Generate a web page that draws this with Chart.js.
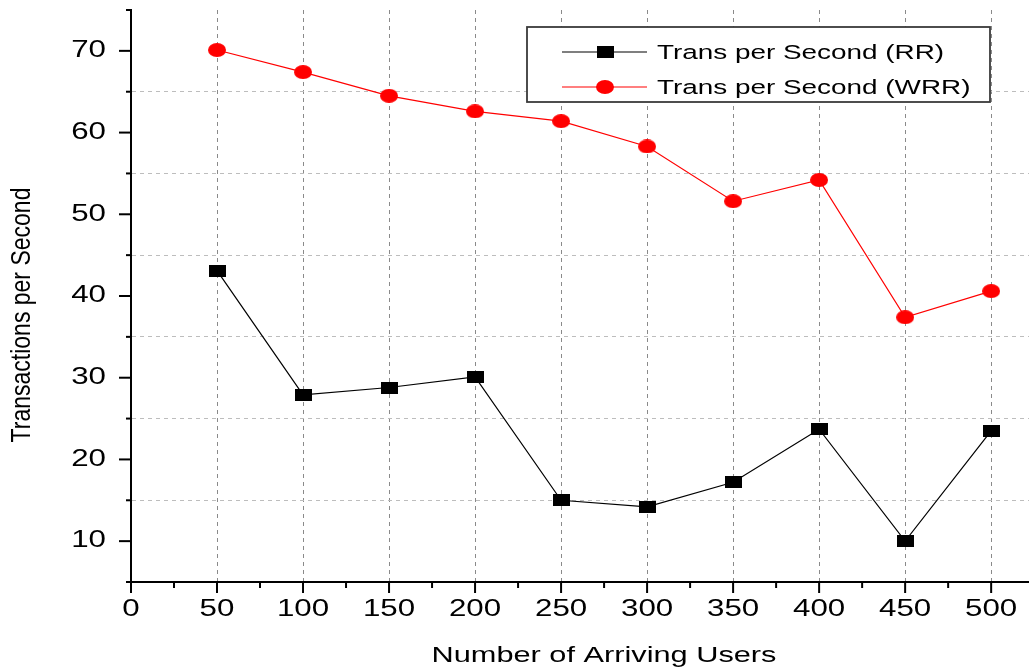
<!DOCTYPE html>
<html>
<head>
<meta charset="utf-8">
<script src="https://cdn.jsdelivr.net/npm/chart.js@4/dist/chart.umd.min.js"></script>
<style>
    html, body { margin: 0; padding: 0; overflow: hidden; background: #fff; }
    #wrap { width: 1029px; height: 671px; position: relative; overflow: hidden; }
    #chart { display: block; }
</style>
</head>
<body>
<div id="wrap"><canvas id="chart"></canvas></div>
<script>
// Chart data
const users = [50, 100, 150, 200, 250, 300, 350, 400, 450, 500];
const transRR = [43.1, 27.9, 28.8, 30.1, 15.0, 14.2, 17.2, 23.7, 10.0, 23.5];
const transWRR = [70.1, 67.4, 64.5, 62.6, 61.4, 58.3, 51.6, 54.2, 37.4, 40.6];
const seriesNames = ['Trans per Second (RR)', 'Trans per Second (WRR)'];
const xTickLabels = [0, 50, 100, 150, 200, 250, 300, 350, 400, 450, 500];
const yTickLabels = [10, 20, 30, 40, 50, 60, 70];
const xTitle = 'Number of Arriving Users';
const yTitle = 'Transactions per Second';

const FONT = "'Liberation Sans', Arial, sans-serif";
// the original export is stretched sideways, so text gets the same stretch
const STRETCH = 1.36;

function makeSquare(w, h, color) {
    const c = document.createElement('canvas');
    c.width = w; c.height = h;
    const g = c.getContext('2d');
    g.fillStyle = color;
    g.fillRect(0, 0, w, h);
    return c;
}
function makeEllipse(w, h, color) {
    const c = document.createElement('canvas');
    c.width = w; c.height = h;
    const g = c.getContext('2d');
    g.fillStyle = color;
    g.beginPath();
    g.ellipse(w / 2, h / 2, w / 2, h / 2, 0, 0, Math.PI * 2);
    g.fill();
    return c;
}
const squareMark = makeSquare(17, 12, '#000');
const circleMark = makeEllipse(18, 14, '#ff0000');

// Major ticks plus the midpoints between them
function withMinor(major, lo, hi) {
    const step = major[1] - major[0];
    const out = [];
    for (let v = lo; v <= hi + 1e-9; v += step / 2) out.push(v);
    return out;
}

function wideText(ctx, text, x, y, align, size, rotate) {
    ctx.save();
    ctx.translate(x, y);
    if (rotate) {
        ctx.rotate(-Math.PI / 2);
        ctx.scale(1, 1.2);
    } else {
        ctx.scale(STRETCH, 1);
    }
    ctx.font = size + 'px ' + FONT;
    ctx.fillStyle = '#000';
    ctx.textAlign = align;
    ctx.textBaseline = 'middle';
    ctx.fillText(text, 0, 0);
    ctx.restore();
}

// Tick marks, tick labels and axis titles
const axisDecor = {
    id: 'axisDecor',
    afterDraw(chart) {
        const ctx = chart.ctx;
        const x = chart.scales.x, y = chart.scales.y;
        ctx.save();
        ctx.strokeStyle = '#000';
        ctx.lineWidth = 2;
        x.ticks.forEach(t => {
            const px = x.getPixelForValue(t.value);
            const major = xTickLabels.includes(t.value);
            ctx.beginPath();
            ctx.moveTo(px, x.top);
            ctx.lineTo(px, x.top + (major ? 11 : 6));
            ctx.stroke();
            if (major) wideText(ctx, String(t.value), px, x.top + 28, 'center', 23);
        });
        y.ticks.forEach(t => {
            const py = y.getPixelForValue(t.value);
            const major = yTickLabels.includes(t.value);
            ctx.beginPath();
            ctx.moveTo(y.right, py);
            ctx.lineTo(y.right - (major ? 12 : 5), py);
            ctx.stroke();
            if (major) wideText(ctx, String(t.value), y.right - 25, py, 'right', 23);
        });
        ctx.restore();
        wideText(ctx, xTitle, 604, 656, 'center', 22.6);
        wideText(ctx, yTitle, 22, 315, 'center', 23, true);
    }
};

// Boxed legend in the upper right of the plot
const boxLegend = {
    id: 'boxLegend',
    afterDraw(chart) {
        const ctx = chart.ctx;
        const marks = [squareMark, circleMark];
        ctx.save();
        ctx.fillStyle = '#fff';
        ctx.fillRect(527, 27, 463, 75);
        ctx.strokeStyle = '#3a3a3a';
        ctx.lineWidth = 1.8;
        ctx.strokeRect(527, 27, 463, 75);
        chart.data.datasets.forEach((ds, i) => {
            const rowY = 52 + i * 35;
            ctx.strokeStyle = ds.borderColor;
            ctx.lineWidth = ds.borderWidth;
            ctx.beginPath();
            ctx.moveTo(562, rowY);
            ctx.lineTo(647, rowY);
            ctx.stroke();
            const m = marks[i];
            ctx.drawImage(m, 605 - m.width / 2, rowY - m.height / 2);
            wideText(ctx, ds.label, 657, rowY + 1, 'left', 20.5);
        });
        ctx.restore();
    }
};

const zeroPad = s => { s.paddingTop = 0; s.paddingBottom = 0; s.paddingLeft = 0; s.paddingRight = 0; };

const ctx = document.getElementById('chart');
new Chart(ctx, {
    type: 'line',
    data: {
        datasets: [
            {
                label: seriesNames[0],
                data: users.map((u, i) => ({ x: u, y: transRR[i] })),
                borderColor: '#000',
                borderWidth: 1.2,
                pointStyle: squareMark,
                pointRadius: 8,
                tension: 0
            },
            {
                label: seriesNames[1],
                data: users.map((u, i) => ({ x: u, y: transWRR[i] })),
                borderColor: '#ff0000',
                borderWidth: 1.2,
                pointStyle: circleMark,
                pointRadius: 8,
                tension: 0
            }
        ]
    },
    options: {
        responsive: true,
        maintainAspectRatio: false,
        animation: false,
        devicePixelRatio: 1,
        layout: { autoPadding: false, padding: { top: 10, right: 0, bottom: 0, left: 0 } },
        plugins: {
            legend: { display: false },
            tooltip: { enabled: false }
        },
        scales: {
            x: {
                type: 'linear',
                min: 0,
                max: 522,
                afterBuildTicks: s => { s.ticks = withMinor(xTickLabels, 0, 500).map(v => ({ value: v })); },
                afterFit: s => { s.height = 89; zeroPad(s); },
                border: { display: true, color: '#000', width: 2, dash: [4, 4] },
                grid: {
                    drawTicks: false,
                    lineWidth: 1,
                    color: c => (c.tick && c.tick.value > 0 && xTickLabels.includes(c.tick.value)) ? '#8a8a8a' : 'transparent'
                },
                ticks: { display: false }
            },
            y: {
                type: 'linear',
                min: 5,
                max: 75,
                afterBuildTicks: s => { s.ticks = withMinor(yTickLabels, 5, 75).map(v => ({ value: v })); },
                afterFit: s => { s.width = 131; zeroPad(s); },
                border: { display: true, color: '#000', width: 2, dash: [4, 4] },
                grid: {
                    drawTicks: false,
                    lineWidth: 1,
                    color: c => (c.tick && c.tick.value > 5 && c.tick.value < 75 && !yTickLabels.includes(c.tick.value)) ? '#bdbdbd' : 'transparent'
                },
                ticks: { display: false }
            }
        }
    },
    plugins: [axisDecor, boxLegend]
});
</script>
</body>
</html>
